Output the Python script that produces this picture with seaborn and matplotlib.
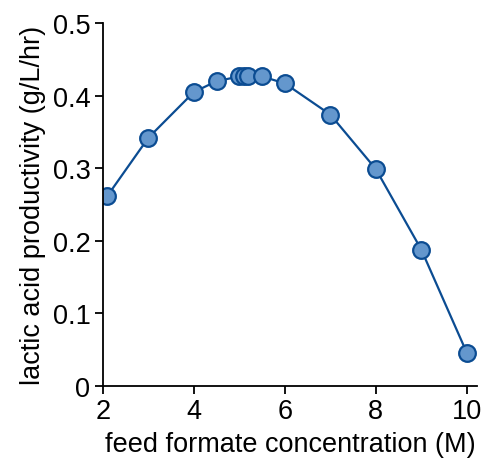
import matplotlib
matplotlib.use("Agg")
import matplotlib.pyplot as plt
import seaborn as sns
import pandas as pd

formate = [2.1, 3.0, 4.0, 4.5, 5.0, 5.1, 5.2, 5.5, 6.0, 7.0, 8.0, 9.0, 10.0]
productivity = [0.262, 0.342, 0.405, 0.420, 0.4265, 0.427, 0.427, 0.4265, 0.417, 0.374, 0.299, 0.188, 0.046]
x_ticks = [2, 4, 6, 8, 10]
y_ticks = [0, 0.1, 0.2, 0.3, 0.4, 0.5]
y_tick_labels = ["0", "0.1", "0.2", "0.3", "0.4", "0.5"]

df = pd.DataFrame({"formate": formate, "productivity": productivity})

sns.set_style("ticks")
plt.rcParams["font.family"] = ["Liberation Sans", "DejaVu Sans"]

fig = plt.figure(figsize=(4.83, 4.64), dpi=100)
ax = fig.add_axes([0.213, 0.166, 0.775, 0.782])

sns.lineplot(data=df, x="formate", y="productivity", ax=ax, color="#0B4C92",
             linewidth=1.6, marker="o", markersize=12,
             markerfacecolor="#6497CD", markeredgecolor="#0B4C92",
             markeredgewidth=1.6, sort=False)

ax.set_xlim(2, 10.23)
ax.set_ylim(0, 0.5)
ax.set_xticks(x_ticks)
ax.set_yticks(y_ticks)
ax.set_yticklabels(y_tick_labels)
ax.tick_params(labelsize=19.5, width=1.3, length=6, color="black", labelcolor="black", pad=3)
ax.set_xlabel("feed formate concentration (M)", fontsize=19.5, labelpad=5, color="black")
ax.set_ylabel("lactic acid productivity (g/L/hr)", fontsize=19.5, labelpad=5, color="black")
for s in ["top", "right"]:
    ax.spines[s].set_visible(False)
for s in ["left", "bottom"]:
    ax.spines[s].set_linewidth(1.3)
    ax.spines[s].set_color("black")

fig.savefig("out.png", dpi=100)
